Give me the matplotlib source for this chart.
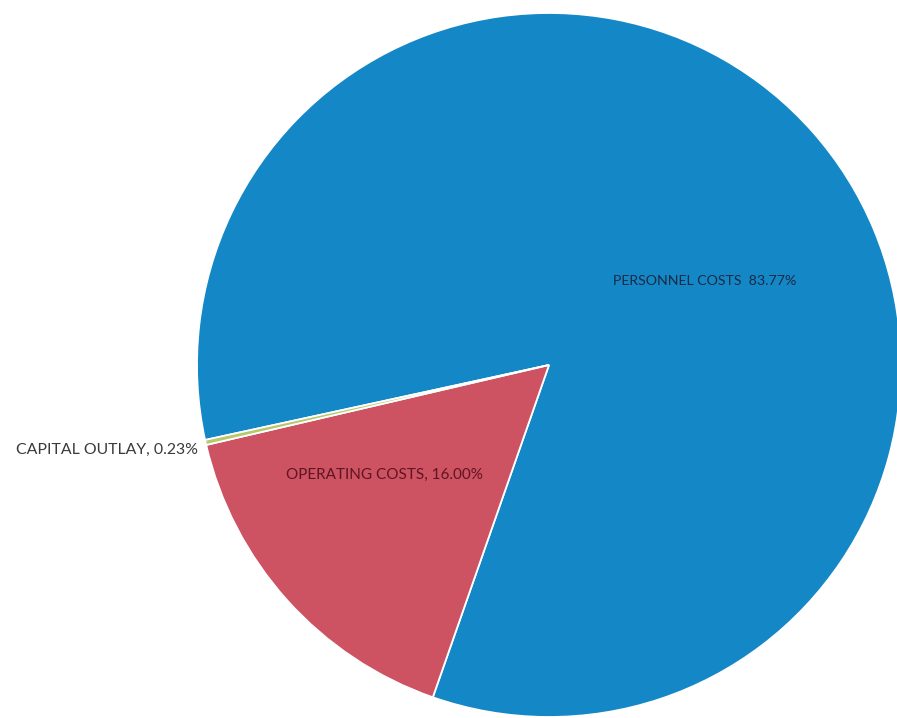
import matplotlib.pyplot as plt

# budget split by cost category (percent of total)
categories = ["PERSONNEL COSTS", "OPERATING COSTS", "CAPITAL OUTLAY"]
shares = [83.77, 16.00, 0.23]
slice_colors = ["#1487c6", "#cd5262", "#b5c96a"]
label_colors = ["#1b2a45", "#5e1521", "#3a3a3a"]
label_texts = [
    f"{categories[0]}  {shares[0]:.2f}%",
    f"{categories[1]}, {shares[1]:.2f}%",
    f"{categories[2]}, {shares[2]:.2f}%",
]
label_sizes = [10.2, 11.0, 11.4]

W, H = 897, 718
CX, CY, R = 549, 365, 352


def to_data(px, py):
    return (px - CX) / R, (CY - py) / R


fig = plt.figure(figsize=(W / 100, H / 100), dpi=100)
ax = fig.add_axes([0, 0, 1, 1])
ax.pie(
    shares,
    colors=slice_colors,
    startangle=192.3,
    counterclock=False,
    radius=1.0,
    wedgeprops={"edgecolor": "white", "linewidth": 1.3},
)
ax.set_xlim(-CX / R, (W - CX) / R)
ax.set_ylim((CY - H) / R, CY / R)
ax.set_aspect("auto")
ax.axis("off")

x, y = to_data(705, 281)
ax.text(x, y, label_texts[0], ha="center", va="center", color=label_colors[0],
        family="Lato", fontsize=label_sizes[0])
x, y = to_data(384, 475)
ax.text(x, y, label_texts[1], ha="center", va="center", color=label_colors[1],
        family="Lato", fontsize=label_sizes[1])
x, y = to_data(198, 450)
ax.text(x, y, label_texts[2], ha="right", va="center", color=label_colors[2],
        family="Lato", fontsize=label_sizes[2])

fig.savefig("out.png", dpi=100, facecolor="white")
plt.close(fig)
